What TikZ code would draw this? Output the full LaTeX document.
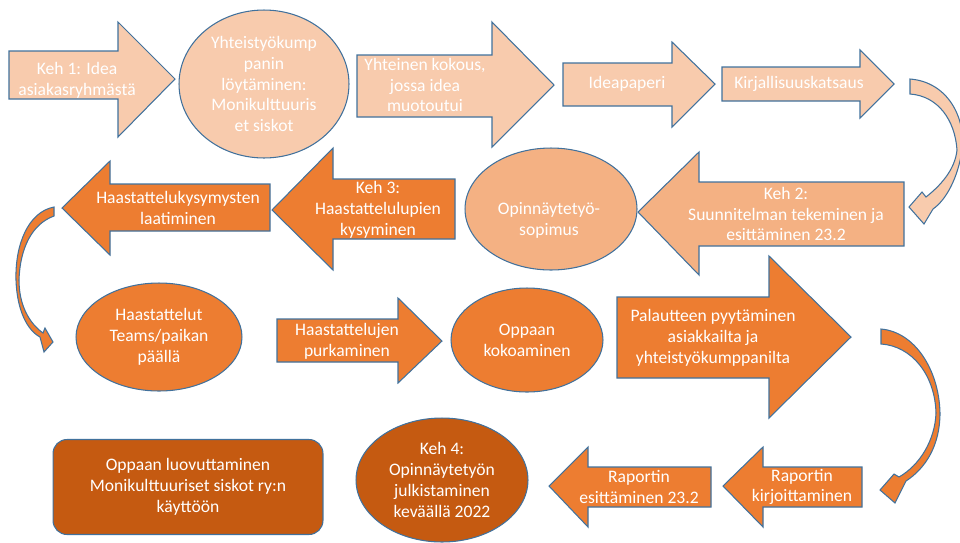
\documentclass[tikz,border=0pt]{standalone}
\usepackage{fontspec}
\setmainfont{Carlito}
\usetikzlibrary{shapes.geometric}

\definecolor{peachA}{HTML}{F8CBAD}
\definecolor{peachB}{HTML}{F4B183}
\definecolor{orangeC}{HTML}{ED7D31}
\definecolor{rustD}{HTML}{C55A11}
\definecolor{edgeblue}{HTML}{41719C}

\tikzset{
  shp/.style={draw=edgeblue,line width=0.6pt,line join=miter},
  lvA/.style={shp,fill=peachA},
  lvB/.style={shp,fill=peachB},
  lvC/.style={shp,fill=orangeC},
  lvD/.style={shp,fill=rustD},
  txt/.style={text=white,align=center,inner sep=0pt,font=\fontsize{10}{11.8}\selectfont},
  oval/.style={ellipse,txt,draw=edgeblue,line width=0.6pt}
}

\begin{document}
\begin{tikzpicture}[x=0.02cm,y=-0.02cm]
    \useasboundingbox (0,0) rectangle (960,542);
    % Rivi 1
    \draw[lvA] (9,51) -- (118,51) -- (118,22) -- (175,79) -- (118,137) -- (118,99) -- (9,99) -- cycle;
    \node[txt] (keh1) at (77,80) {Keh 1: Idea\\asiakasryhmästä};
    \node[oval,fill=peachA,minimum width=3.4cm,minimum height=2.96cm] (kumppani) at (264,84)
      {Yhteistyökump\\panin\\löytäminen:\\Monikulttuuris\\et siskot};
    \draw[lvA] (357,55) -- (492,55) -- (492,22) -- (554,85) -- (492,147) -- (492,117) -- (357,117) -- cycle;
    \node[txt] (kokous) at (425,85) {Yhteinen kokous,\\jossa idea\\muotoutui};
    \draw[lvA] (563,63) -- (672,63) -- (672,42) -- (715,84) -- (672,127) -- (672,106) -- (563,106) -- cycle;
    \node[txt] (idea) at (627,84) {Ideapaperi};
    \draw[lvA] (722,67) -- (860,67) -- (860,50) -- (894,84) -- (860,118) -- (860,101) -- (722,101) -- cycle;
    \node[txt] (kirj) at (799,84) {Kirjallisuuskatsaus};
    % Kaari oikealla ylhaalla
    \draw[lvA] (910,79) .. controls (948,82) and (966,118) .. (962,150)
      .. controls (958,178) and (946,200) .. (933,209)
      -- (924,224) -- (909,207) -- (922,192) -- (926,197)
      .. controls (940,186) and (955,170) .. (957,150)
      .. controls (955,120) and (938,96) .. (910,94) -- cycle;
    % Rivi 2
    \draw[lvB] (904,182) -- (699,182) -- (699,152) -- (638,212) -- (699,275) -- (699,246) -- (904,246) -- cycle;
    \node[txt] (keh2) at (786,214) {Keh 2:\\Suunnitelman tekeminen ja\\esittäminen 23.2};
    \node[oval,fill=peachB,minimum width=3.44cm,minimum height=2.44cm] (sopimus) at (551,209) {};
    \node[txt] (sopimusT) at (549,220) {Opinnäytetyö-\\sopimus};
    \draw[lvC] (455,179) -- (333,179) -- (333,148) -- (272,210) -- (333,270) -- (333,239) -- (455,239) -- cycle;
    \node[txt] (keh3) at (378,210) {Keh 3:\\Haastattelulupien\\kysyminen};
    \draw[lvC] (270,184) -- (110,184) -- (110,161) -- (62,208) -- (110,255) -- (110,231) -- (270,231) -- cycle;
    \node[txt] (kysym) at (178,208) {Haastattelukysymysten\\laatiminen};
    % Kaari vasemmalla
    \draw[lvC] (54,207) .. controls (28,212) and (15,245) .. (16,280)
      .. controls (17,310) and (27,330) .. (40,337)
      -- (44,352) -- (53,342) -- (45,328) -- (43,333)
      .. controls (29,323) and (19,305) .. (19,280)
      .. controls (20,248) and (32,224) .. (54,216) -- cycle;
    % Rivi 3
    \node[oval,fill=orangeC,minimum width=3.32cm,minimum height=2.16cm] (haast) at (159,337)
      {Haastattelut\\Teams/paikan\\päällä};
    \draw[lvC] (277,319) -- (398,319) -- (398,298) -- (442,341) -- (398,383) -- (398,362) -- (277,362) -- cycle;
    \node[txt] (purku) at (347,341) {Haastattelujen\\purkaminen};
    \node[oval,fill=orangeC,minimum width=3.04cm,minimum height=2.08cm] (opas) at (527,340)
      {Oppaan\\kokoaminen};
    \draw[lvC] (617,297) -- (769,297) -- (769,256) -- (851,337) -- (769,418) -- (769,378) -- (617,378) -- cycle;
    \node[txt] (palaute) at (713,338) {Palautteen pyytäminen\\asiakkailta ja\\yhteistyökumppanilta};
    % Kaari oikealla alhaalla
    \draw[lvC] (881,329) .. controls (915,332) and (939,370) .. (940,413)
      .. controls (940,445) and (926,468) .. (906,481)
      -- (895,503) -- (880,490) -- (894,474) -- (899,477)
      .. controls (920,465) and (935,440) .. (936,413)
      .. controls (935,375) and (912,346) .. (881,344) -- cycle;
    % Rivi 4
    \draw[lvC] (862,467) -- (763,467) -- (763,447) -- (723,486) -- (763,527) -- (763,507) -- (862,507) -- cycle;
    \node[txt] (kirjoitus) at (802,487) {Raportin\\kirjoittaminen};
    \draw[lvC] (711,467) -- (588,467) -- (588,447) -- (549,486) -- (588,527) -- (588,507) -- (711,507) -- cycle;
    \node[txt] (esitys) at (639,487) {Raportin\\esittäminen 23.2};
    \node[oval,fill=rustD,minimum width=3.44cm,minimum height=2.48cm] (keh4) at (442,480)
      {Keh 4:\\Opinnäytetyön\\julkistaminen\\keväällä 2022};
    \node[txt,draw=edgeblue,line width=0.6pt,fill=rustD,rounded corners=0.28cm,
      minimum width=5.4cm,minimum height=1.9cm] (luovutus) at (188,487)
      {Oppaan luovuttaminen\\Monikulttuuriset siskot ry:n\\käyttöön};
\end{tikzpicture}
\end{document}
